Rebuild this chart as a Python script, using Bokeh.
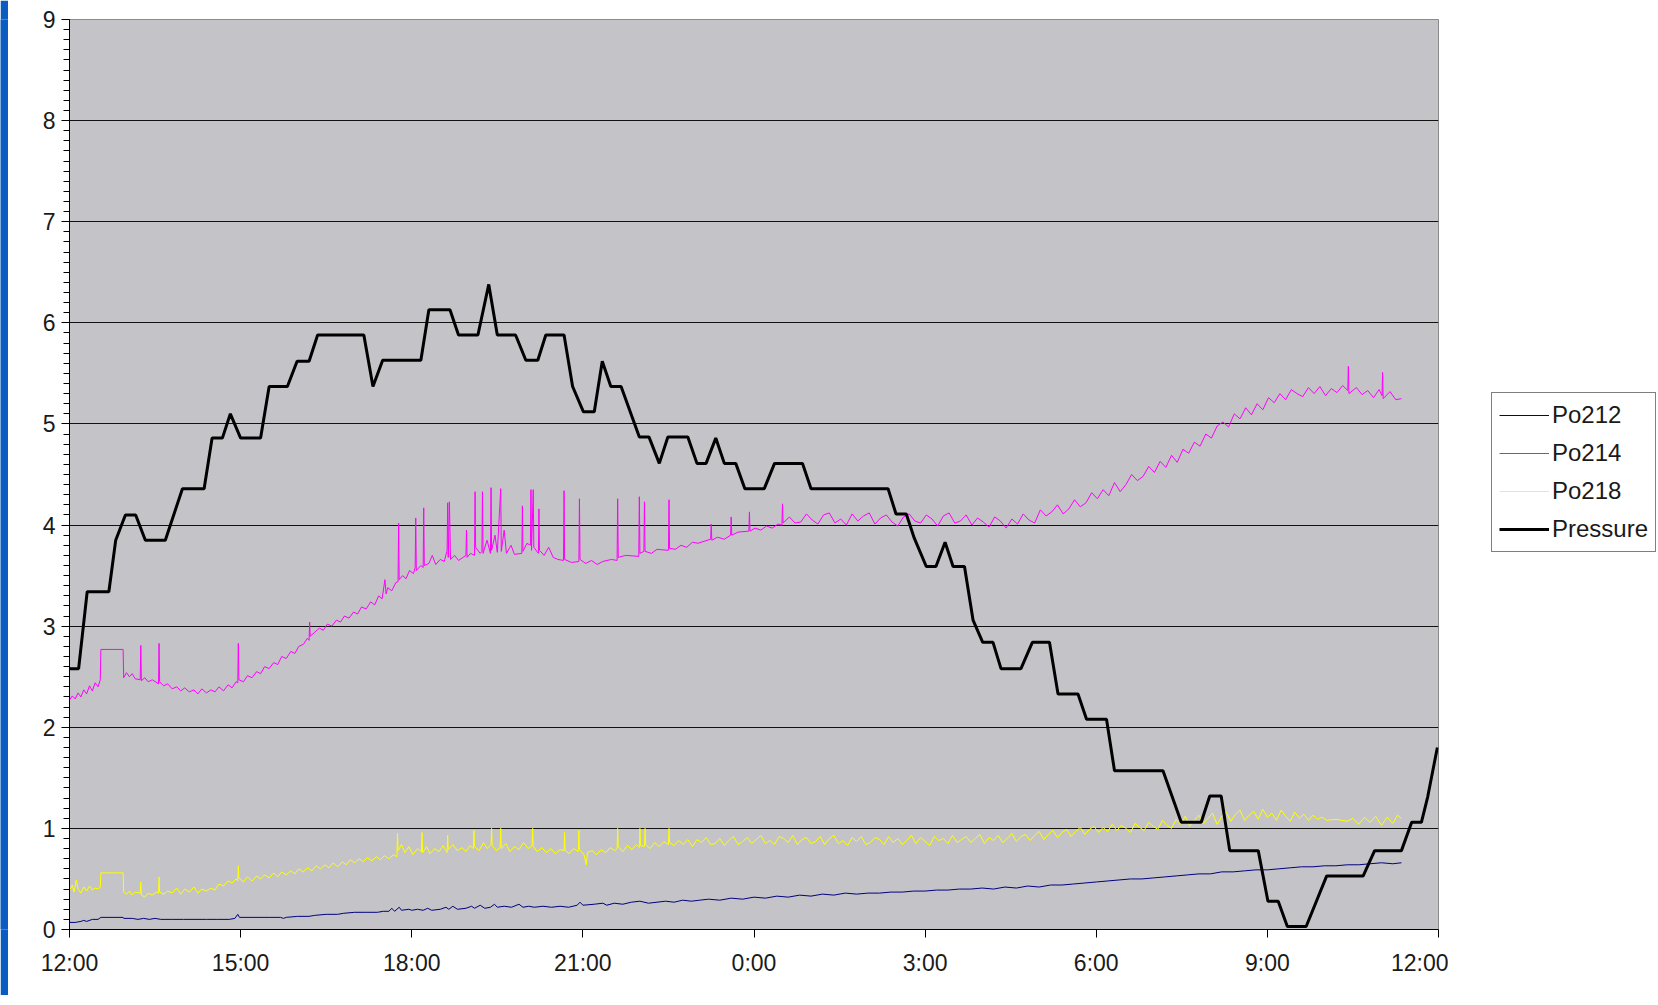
from bokeh.plotting import figure
from bokeh.layouts import row
from bokeh.models import Range1d, FixedTicker, Legend, LegendItem, ColumnDataSource
from bokeh.embed import file_html
from bokeh.resources import INLINE

# ---------------- data (hours after 12:00) ----------------
tick_hours = [0, 3, 6, 9, 12, 15, 18, 21, 24]
tick_labels = ["12:00", "15:00", "18:00", "21:00", "0:00", "3:00", "6:00", "9:00", "12:00"]

pressure_t = [0.00, 0.16, 0.31, 0.69, 0.81, 0.98, 1.16, 1.33, 1.68, 1.98, 2.36, 2.50, 2.68, 2.82, 3.00,
              3.35, 3.50, 3.82, 3.99, 4.20, 4.35, 5.16, 5.32, 5.49, 6.16, 6.30, 6.67, 6.82, 7.16, 7.35,
              7.50, 7.82, 8.00, 8.21, 8.35, 8.67, 8.82, 9.01, 9.20, 9.34, 9.49, 9.67, 9.99, 10.16, 10.34,
              10.49, 10.84, 11.00, 11.16, 11.33, 11.48, 11.68, 11.84, 12.18, 12.36, 12.85, 13.00, 14.35,
              14.49, 14.67, 14.81, 15.02, 15.19, 15.35, 15.49, 15.69, 15.84, 16.01, 16.19, 16.33, 16.68,
              16.88, 17.18, 17.33, 17.68, 17.83, 18.18, 18.32, 19.17, 19.49, 19.84, 19.99, 20.19, 20.34,
              20.84, 21.01, 21.19, 21.35, 21.68, 22.04, 22.68, 22.88, 23.35, 23.53, 23.70, 23.81, 23.90, 23.98]
pressure_v = [2.58, 2.58, 3.34, 3.34, 3.85, 4.10, 4.10, 3.85, 3.85, 4.36, 4.36, 4.86, 4.86, 5.10, 4.86,
              4.86, 5.37, 5.37, 5.62, 5.62, 5.88, 5.88, 5.37, 5.63, 5.63, 6.13, 6.13, 5.88, 5.88, 6.38,
              5.88, 5.88, 5.63, 5.63, 5.88, 5.88, 5.37, 5.12, 5.12, 5.62, 5.37, 5.37, 4.87, 4.87, 4.61,
              4.87, 4.87, 4.61, 4.61, 4.86, 4.61, 4.61, 4.36, 4.36, 4.61, 4.61, 4.36, 4.36,
              4.11, 4.11, 3.87, 3.59, 3.59, 3.83, 3.59, 3.59, 3.06, 2.84, 2.84, 2.58, 2.58,
              2.84, 2.84, 2.33, 2.33, 2.08, 2.08, 1.57, 1.57, 1.06, 1.06, 1.32, 1.32, 0.78,
              0.78, 0.28, 0.28, 0.03, 0.03, 0.53, 0.53, 0.78, 0.78, 1.06, 1.06, 1.31, 1.57, 1.80]

po214_t = [0.00, 0.05, 0.10, 0.15, 0.20, 0.25, 0.30, 0.35, 0.40, 0.45, 0.50, 0.54, 0.55, 0.94, 0.95,
           1.00, 1.05, 1.10, 1.15, 1.24, 1.25, 1.26, 1.32, 1.38, 1.45, 1.56, 1.57, 1.58, 1.65, 1.72,
           1.80, 1.88, 1.95, 2.02, 2.10, 2.18, 2.25, 2.32, 2.40, 2.48, 2.55, 2.62, 2.70, 2.78, 2.85,
           2.92, 2.95, 2.96, 2.97, 3.05, 3.12, 3.20, 3.28, 3.35, 3.42, 3.50, 3.58, 3.65, 3.72, 3.80,
           3.88, 3.95, 4.02, 4.10, 4.17, 4.20, 4.21, 4.22, 4.30, 4.38, 4.45, 4.52, 4.60, 4.68, 4.75,
           4.82, 4.90, 4.98, 5.05, 5.12, 5.20, 5.28, 5.35, 5.42, 5.48, 5.53, 5.55, 5.58, 5.65, 5.72,
           5.76, 5.77, 5.78, 5.84, 5.90, 5.96, 6.03, 6.06, 6.07, 6.08, 6.16, 6.20, 6.21, 6.22, 6.30,
           6.36, 6.42, 6.50, 6.57, 6.62, 6.63, 6.64, 6.66, 6.68, 6.75, 6.82, 6.90, 6.95, 6.96, 6.97,
           7.03, 7.10, 7.11, 7.12, 7.20, 7.23, 7.24, 7.25, 7.32, 7.38, 7.39, 7.40, 7.46, 7.50, 7.56,
           7.57, 7.62, 7.66, 7.74, 7.80, 7.93, 7.94, 7.95, 8.02, 8.08, 8.09, 8.10, 8.13, 8.14, 8.22,
           8.23, 8.24, 8.32, 8.40, 8.48, 8.56, 8.66, 8.67, 8.68, 8.80, 8.93, 8.94, 8.95, 9.05, 9.15,
           9.25, 9.35, 9.50, 9.60, 9.61, 9.62, 9.75, 9.98, 9.99, 10.00, 10.07, 10.08, 10.09, 10.20, 10.30,
           10.50, 10.51, 10.52, 10.62, 10.72, 10.82, 10.92, 11.02, 11.24, 11.25, 11.26, 11.36, 11.48, 11.59, 11.60,
           11.61, 11.72, 11.91, 11.92, 11.93, 12.02, 12.12, 12.22, 12.32, 12.42, 12.49, 12.50, 12.51, 12.62, 12.72,
           12.82, 12.92, 13.02, 13.12, 13.22, 13.32, 13.42, 13.52, 13.62, 13.72, 13.82, 13.92, 14.02, 14.12, 14.22,
           14.32, 14.42, 14.52, 14.62, 14.72, 14.82, 14.92, 15.02, 15.12, 15.22, 15.32, 15.42, 15.52, 15.62, 15.72,
           15.82, 15.92, 16.02, 16.12, 16.22, 16.32, 16.42, 16.52, 16.62, 16.72, 16.82, 16.92, 17.02, 17.12, 17.22,
           17.32, 17.42, 17.52, 17.62, 17.72, 17.82, 17.92, 18.02, 18.12, 18.22, 18.32, 18.42, 18.52, 18.62, 18.72,
           18.82, 18.92, 19.02, 19.12, 19.22, 19.32, 19.42, 19.52, 19.62, 19.72, 19.82, 19.92, 20.02, 20.12, 20.22,
           20.32, 20.42, 20.52, 20.62, 20.72, 20.82, 20.92, 21.02, 21.12, 21.22, 21.32, 21.42, 21.52, 21.62, 21.72,
           21.82, 21.92, 22.02, 22.12, 22.22, 22.32, 22.41, 22.42, 22.43, 22.56, 22.66, 22.76, 22.86, 22.96, 23.01,
           23.02, 23.03, 23.15, 23.25, 23.35]
po214_v = [2.27, 2.31, 2.28, 2.34, 2.30, 2.37, 2.33, 2.41, 2.36, 2.44, 2.40, 2.47, 2.77, 2.77, 2.49,
           2.54, 2.50, 2.53, 2.48, 2.47, 2.81, 2.46, 2.49, 2.45, 2.47, 2.43, 2.83, 2.45, 2.41, 2.43,
           2.38, 2.40, 2.36, 2.39, 2.35, 2.37, 2.33, 2.38, 2.34, 2.37, 2.35, 2.40, 2.36, 2.42, 2.39,
           2.45, 2.44, 2.83, 2.47, 2.45, 2.51, 2.49, 2.55, 2.53, 2.60, 2.58, 2.64, 2.62, 2.70, 2.68,
           2.75, 2.73, 2.80, 2.82, 2.88, 2.86, 3.04, 2.90, 2.94, 2.98, 2.96, 3.02, 3.00, 3.06, 3.04,
           3.10, 3.08, 3.14, 3.12, 3.19, 3.17, 3.24, 3.21, 3.30, 3.27, 3.46, 3.32, 3.38, 3.35, 3.43,
           3.44, 4.02, 3.46, 3.50, 3.47, 3.55, 3.52, 3.58, 4.07, 3.55, 3.60, 3.58, 4.17, 3.60, 3.62,
           3.70, 3.61, 3.66, 3.64, 3.75, 4.22, 3.68, 4.23, 3.66, 3.70, 3.65, 3.68, 3.70, 3.95, 3.68,
           3.72, 3.70, 4.33, 3.78, 3.72, 3.74, 4.33, 3.72, 3.85, 3.72, 4.37, 3.75, 3.90, 3.73, 4.36,
           3.74, 3.95, 3.72, 3.80, 3.71, 3.72, 4.19, 3.74, 3.82, 3.80, 4.35, 3.75, 4.35, 3.78, 3.72,
           4.16, 3.75, 3.70, 3.78, 3.68, 3.66, 3.65, 4.34, 3.66, 3.63, 3.64, 4.26, 3.66, 3.62, 3.65,
           3.61, 3.64, 3.66, 3.65, 4.26, 3.68, 3.70, 3.69, 4.28, 3.72, 3.74, 4.23, 3.74, 3.72, 3.76,
           3.75, 4.25, 3.77, 3.76, 3.80, 3.78, 3.83, 3.82, 3.86, 4.01, 3.85, 3.88, 3.86, 3.90, 4.08,
           3.90, 3.93, 3.94, 4.13, 3.94, 3.97, 3.95, 3.99, 3.97, 4.01, 4.00, 4.21, 4.02, 4.08, 4.02,
           4.03, 4.11, 4.05, 4.01, 4.10, 4.12, 4.02, 4.06, 4.00, 4.11, 4.04, 4.09, 4.12, 4.01, 4.07,
           4.10, 4.03, 3.99, 4.08, 4.11, 4.04, 4.02, 4.10, 4.06, 3.99, 4.09, 4.12, 4.02, 4.04, 4.10,
           4.00, 4.07, 4.03, 3.98, 4.08, 4.04, 3.97, 4.06, 4.01, 4.11, 4.05, 4.02, 4.15, 4.09, 4.13,
           4.20, 4.11, 4.16, 4.25, 4.18, 4.22, 4.32, 4.26, 4.35, 4.29, 4.42, 4.33, 4.40, 4.50, 4.44,
           4.48, 4.58, 4.52, 4.63, 4.57, 4.69, 4.62, 4.75, 4.71, 4.82, 4.78, 4.90, 4.86, 4.98, 5.02,
           4.97, 5.10, 5.05, 5.16, 5.09, 5.20, 5.14, 5.26, 5.21, 5.30, 5.24, 5.34, 5.30, 5.27, 5.36,
           5.30, 5.37, 5.28, 5.35, 5.31, 5.38, 5.33, 5.57, 5.30, 5.36, 5.29, 5.33, 5.26, 5.34, 5.28,
           5.51, 5.25, 5.32, 5.24, 5.25]

po218_t = [0.00, 0.05, 0.08, 0.12, 0.15, 0.20, 0.25, 0.30, 0.35, 0.40, 0.45, 0.50, 0.54, 0.55, 0.94,
           0.95, 1.00, 1.05, 1.10, 1.15, 1.24, 1.25, 1.26, 1.32, 1.38, 1.45, 1.52, 1.56, 1.57, 1.58,
           1.65, 1.72, 1.80, 1.88, 1.95, 2.02, 2.10, 2.18, 2.25, 2.32, 2.40, 2.48, 2.55, 2.62, 2.70,
           2.78, 2.85, 2.92, 2.95, 2.96, 2.97, 3.05, 3.12, 3.20, 3.28, 3.35, 3.42, 3.50, 3.58, 3.65,
           3.72, 3.80, 3.88, 3.95, 4.02, 4.10, 4.17, 4.25, 4.32, 4.40, 4.48, 4.55, 4.62, 4.70, 4.78,
           4.85, 4.92, 5.00, 5.08, 5.15, 5.22, 5.30, 5.38, 5.45, 5.52, 5.60, 5.68, 5.74, 5.75, 5.76,
           5.82, 5.88, 5.95, 6.02, 6.10, 6.17, 6.18, 6.19, 6.26, 6.32, 6.40, 6.48, 6.55, 6.62, 6.63,
           6.64, 6.72, 6.80, 6.88, 6.95, 7.02, 7.08, 7.09, 7.10, 7.18, 7.26, 7.32, 7.39, 7.40, 7.41,
           7.48, 7.55, 7.56, 7.57, 7.65, 7.72, 7.80, 7.88, 7.96, 8.04, 8.11, 8.12, 8.13, 8.20, 8.28,
           8.36, 8.44, 8.52, 8.60, 8.67, 8.68, 8.69, 8.76, 8.84, 8.92, 8.93, 8.94, 9.02, 9.06, 9.08,
           9.16, 9.24, 9.32, 9.40, 9.48, 9.56, 9.60, 9.61, 9.62, 9.70, 9.78, 9.86, 9.94, 9.99, 10.00,
           10.01, 10.08, 10.09, 10.10, 10.18, 10.26, 10.34, 10.42, 10.50, 10.51, 10.52, 10.60, 10.68, 10.76, 10.84,
           10.92, 11.00, 11.08, 11.16, 11.24, 11.32, 11.40, 11.48, 11.56, 11.64, 11.72, 11.80, 11.88, 11.96, 12.04,
           12.12, 12.20, 12.28, 12.36, 12.44, 12.52, 12.60, 12.68, 12.76, 12.84, 12.92, 13.00, 13.08, 13.16, 13.24,
           13.32, 13.40, 13.48, 13.56, 13.64, 13.72, 13.80, 13.88, 13.96, 14.04, 14.12, 14.20, 14.28, 14.36, 14.44,
           14.52, 14.60, 14.68, 14.76, 14.84, 14.92, 15.00, 15.08, 15.16, 15.24, 15.32, 15.40, 15.48, 15.56, 15.64,
           15.72, 15.80, 15.88, 15.96, 16.04, 16.12, 16.20, 16.28, 16.36, 16.44, 16.52, 16.60, 16.68, 16.76, 16.84,
           16.92, 17.00, 17.08, 17.16, 17.24, 17.32, 17.40, 17.48, 17.56, 17.64, 17.72, 17.80, 17.88, 17.96, 18.04,
           18.12, 18.20, 18.28, 18.36, 18.44, 18.52, 18.60, 18.68, 18.76, 18.84, 18.92, 19.00, 19.08, 19.16, 19.24,
           19.32, 19.40, 19.48, 19.56, 19.64, 19.72, 19.80, 19.88, 19.96, 20.04, 20.12, 20.20, 20.28, 20.36, 20.44,
           20.52, 20.60, 20.68, 20.76, 20.84, 20.92, 21.00, 21.08, 21.16, 21.24, 21.32, 21.40, 21.48, 21.56, 21.64,
           21.72, 21.80, 21.88, 21.96, 22.04, 22.20, 22.30, 22.40, 22.50, 22.60, 22.70, 22.80, 22.90, 23.00, 23.10,
           23.20, 23.28, 23.35]
po218_v = [0.39, 0.44, 0.37, 0.49, 0.40, 0.36, 0.42, 0.38, 0.43, 0.39, 0.41, 0.40, 0.42, 0.56, 0.56,
           0.37, 0.35, 0.38, 0.34, 0.37, 0.36, 0.47, 0.34, 0.32, 0.36, 0.34, 0.37, 0.36, 0.52, 0.37,
           0.35, 0.38, 0.36, 0.41, 0.35, 0.40, 0.37, 0.42, 0.36, 0.40, 0.38, 0.41, 0.39, 0.45, 0.43,
           0.48, 0.46, 0.50, 0.48, 0.63, 0.51, 0.47, 0.52, 0.48, 0.53, 0.50, 0.54, 0.51, 0.56, 0.52,
           0.57, 0.54, 0.58, 0.55, 0.60, 0.57, 0.61, 0.58, 0.63, 0.60, 0.64, 0.61, 0.66, 0.62, 0.67,
           0.64, 0.69, 0.66, 0.70, 0.67, 0.71, 0.68, 0.72, 0.69, 0.73, 0.70, 0.74, 0.72, 0.95, 0.78,
           0.84, 0.76, 0.82, 0.74, 0.80, 0.77, 0.96, 0.76, 0.82, 0.75, 0.80, 0.77, 0.83, 0.76, 0.93,
           0.79, 0.84, 0.78, 0.81, 0.77, 0.83, 0.80, 0.98, 0.82, 0.78, 0.86, 0.80, 0.84, 1.00, 0.83,
           0.78, 0.81, 1.00, 0.80, 0.85, 0.77, 0.82, 0.79, 0.86, 0.80, 0.83, 1.00, 0.82, 0.77, 0.81,
           0.76, 0.80, 0.75, 0.79, 0.78, 0.96, 0.78, 0.75, 0.80, 0.77, 0.98, 0.79, 0.74, 0.64, 0.76,
           0.78, 0.74, 0.79, 0.76, 0.81, 0.78, 0.80, 1.00, 0.82, 0.77, 0.83, 0.79, 0.84, 0.81, 1.00,
           0.83, 0.82, 1.00, 0.84, 0.80, 0.86, 0.82, 0.87, 0.84, 1.00, 0.86, 0.83, 0.88, 0.84, 0.89,
           0.82, 0.89, 0.86, 0.91, 0.84, 0.85, 0.90, 0.83, 0.88, 0.92, 0.84, 0.87, 0.91, 0.85, 0.89,
           0.93, 0.85, 0.88, 0.84, 0.92, 0.90, 0.86, 0.93, 0.84, 0.89, 0.91, 0.85, 0.87, 0.92, 0.84,
           0.90, 0.93, 0.85, 0.88, 0.83, 0.91, 0.87, 0.92, 0.84, 0.86, 0.91, 0.89, 0.84, 0.92, 0.86,
           0.90, 0.84, 0.88, 0.93, 0.85, 0.91, 0.87, 0.83, 0.92, 0.88, 0.90, 0.85, 0.93, 0.86, 0.89,
           0.92, 0.86, 0.90, 0.94, 0.85, 0.91, 0.88, 0.93, 0.86, 0.90, 0.95, 0.87, 0.92, 0.94, 0.88,
           0.93, 0.97, 0.89, 0.94, 0.98, 0.91, 0.96, 0.99, 0.92, 0.97, 1.01, 0.94, 0.99, 1.02, 0.96,
           1.01, 0.97, 1.04, 0.98, 1.03, 1.00, 0.96, 1.05, 1.01, 0.98, 1.06, 1.02, 0.99, 1.08, 1.03,
           1.00, 1.09, 1.04, 1.12, 1.02, 1.08, 1.13, 1.05, 1.10, 1.15, 1.04, 1.12, 1.16, 1.07, 1.14,
           1.18, 1.08, 1.13, 1.17, 1.09, 1.19, 1.11, 1.15, 1.08, 1.18, 1.12, 1.07, 1.16, 1.10, 1.14,
           1.08, 1.13, 1.09, 1.11, 1.08, 1.09, 1.08, 1.07, 1.10, 1.04, 1.11, 1.06, 1.12, 1.03, 1.11,
           1.05, 1.13, 1.10]

po212_t = [0.00, 0.10, 0.20, 0.25, 0.30, 0.40, 0.50, 0.55, 0.94, 0.95, 1.10, 1.20, 1.30, 1.40, 1.50,
           1.60, 1.80, 2.00, 2.20, 2.40, 2.60, 2.80, 2.90, 2.95, 2.98, 3.20, 3.50, 3.70, 3.75, 3.80,
           4.00, 4.20, 4.30, 4.50, 4.70, 4.80, 5.00, 5.20, 5.40, 5.50, 5.60, 5.65, 5.70, 5.78, 5.82,
           5.95, 6.00, 6.10, 6.20, 6.28, 6.35, 6.50, 6.60, 6.65, 6.72, 6.80, 6.95, 7.05, 7.10, 7.20,
           7.28, 7.38, 7.45, 7.50, 7.62, 7.75, 7.88, 7.95, 8.05, 8.15, 8.30, 8.45, 8.60, 8.75, 8.90,
           8.95, 9.00, 9.20, 9.35, 9.42, 9.55, 9.70, 9.85, 10.00, 10.15, 10.30, 10.45, 10.60, 10.75, 10.90,
           11.05, 11.20, 11.40, 11.60, 11.80, 12.00, 12.20, 12.40, 12.60, 12.80, 13.00, 13.20, 13.40, 13.60, 13.80,
           14.00, 14.20, 14.40, 14.60, 14.80, 15.00, 15.20, 15.40, 15.60, 15.80, 16.00, 16.20, 16.40, 16.60, 16.80,
           17.00, 17.20, 17.40, 17.60, 17.80, 18.00, 18.20, 18.40, 18.60, 18.80, 19.00, 19.20, 19.40, 19.60, 19.80,
           20.00, 20.20, 20.40, 20.60, 20.80, 21.00, 21.20, 21.40, 21.60, 21.80, 22.00, 22.20, 22.40, 22.60, 22.80,
           23.00, 23.20, 23.35]
po212_v = [0.07, 0.07, 0.08, 0.09, 0.08, 0.10, 0.10, 0.12, 0.12, 0.11, 0.11, 0.10, 0.11, 0.10, 0.11,
           0.10, 0.10, 0.10, 0.10, 0.10, 0.10, 0.10, 0.11, 0.15, 0.12, 0.12, 0.12, 0.12, 0.11, 0.12,
           0.13, 0.13, 0.14, 0.15, 0.15, 0.16, 0.17, 0.17, 0.17, 0.18, 0.18, 0.21, 0.18, 0.22, 0.19,
           0.20, 0.19, 0.20, 0.19, 0.21, 0.19, 0.20, 0.22, 0.20, 0.23, 0.20, 0.21, 0.23, 0.21, 0.24,
           0.21, 0.22, 0.25, 0.22, 0.23, 0.22, 0.25, 0.22, 0.23, 0.22, 0.23, 0.22, 0.23, 0.22, 0.24,
           0.27, 0.24, 0.25, 0.26, 0.24, 0.26, 0.25, 0.27, 0.28, 0.26, 0.27, 0.28, 0.27, 0.29, 0.28,
           0.29, 0.30, 0.29, 0.31, 0.30, 0.32, 0.31, 0.33, 0.32, 0.34, 0.33, 0.35, 0.34, 0.36, 0.35,
           0.36, 0.36, 0.37, 0.37, 0.38, 0.38, 0.39, 0.39, 0.40, 0.40, 0.41, 0.40, 0.42, 0.41, 0.43,
           0.42, 0.44, 0.44, 0.45, 0.46, 0.47, 0.48, 0.49, 0.50, 0.50, 0.51, 0.52, 0.53, 0.54, 0.55,
           0.55, 0.57, 0.57, 0.58, 0.59, 0.59, 0.60, 0.61, 0.62, 0.62, 0.63, 0.63, 0.64, 0.64, 0.65,
           0.66, 0.65, 0.66]

series_names = ["Po212", "Po214", "Po218", "Pressure"]
series_colors = ["#000080", "#ff00ff", "#ffff00", "black"]
series_widths = [1, 1, 1, 3]

FONT = "Liberation Sans"
H = 995

# ---------------- window edge strip ----------------
strip = figure(width=8, height=H, output_backend="svg", toolbar_location=None,
               x_range=Range1d(0, 1), y_range=Range1d(0, 1), x_axis_type=None, y_axis_type=None)
strip.min_border_left = strip.min_border_right = 0
strip.min_border_top = strip.min_border_bottom = 0
strip.grid.visible = False
strip.outline_line_color = None
strip.background_fill_color = "#0a5cc0"
strip.border_fill_color = "#0a5cc0"

# ---------------- main figure ----------------
p = figure(width=1440, height=H, output_backend="svg", toolbar_location=None,
           x_range=Range1d(0, 24), y_range=Range1d(0, 9))
p.min_border_left = 61
p.min_border_right = 10
p.min_border_top = 19
p.min_border_bottom = H - 19 - 910
p.background_fill_color = "#c4c3c7"
p.border_fill_color = "white"
p.outline_line_color = "#8a8a8a"
p.outline_line_width = 1

p.xgrid.grid_line_color = None
p.ygrid.grid_line_color = "#111111"
p.ygrid.grid_line_width = 1
p.ygrid.ticker = FixedTicker(ticks=list(range(0, 10)))

p.xaxis.ticker = FixedTicker(ticks=tick_hours)
p.xaxis.major_label_overrides = {h: lab for h, lab in zip(tick_hours, tick_labels)}
p.yaxis.ticker = FixedTicker(ticks=list(range(0, 10)),
                             minor_ticks=[i / 10 for i in range(0, 91)])
for ax in (p.xaxis[0], p.yaxis[0]):
    ax.axis_line_color = "black"
    ax.axis_line_width = 1
    ax.major_tick_line_color = "black"
    ax.major_tick_line_width = 1
    ax.major_tick_in = 0
    ax.major_tick_out = 8
    ax.major_label_text_font = FONT
    ax.major_label_text_font_size = "23px"
    ax.major_label_text_color = "#1a1a1a"
p.xaxis.minor_tick_line_color = None
p.xaxis.major_label_standoff = 12
p.yaxis.minor_tick_line_color = "black"
p.yaxis.minor_tick_in = 0
p.yaxis.minor_tick_out = 6
p.yaxis.major_label_standoff = 6

sources = [ColumnDataSource(dict(t=t, v=v)) for t, v in
           [(po212_t, po212_v), (po214_t, po214_v), (po218_t, po218_v), (pressure_t, pressure_v)]]
for src, c, w in zip(sources, series_colors, series_widths):
    p.line("t", "v", source=src, line_color=c, line_width=w)

# ---------------- legend panel ----------------
lg = figure(width=210, height=H, output_backend="svg", toolbar_location=None,
            x_range=Range1d(0, 1), y_range=Range1d(0, 1), x_axis_type=None, y_axis_type=None)
lg.min_border_left = lg.min_border_right = 0
lg.min_border_top = lg.min_border_bottom = 0
lg.grid.visible = False
lg.outline_line_color = None
lg.background_fill_color = "white"
lg.border_fill_color = "white"

# legend swatches: same styles, drawn outside the visible range
legend_renderers = [lg.line(x=[5, 6], y=[5, 6], line_color=c, line_width=w)
                    for c, w in zip(series_colors, series_widths)]
legend = Legend(items=[LegendItem(label=n, renderers=[r]) for n, r in
                       zip(series_names, legend_renderers)],
                location=(43, 377))
legend.label_text_font = FONT
legend.label_text_font_size = "24px"
legend.label_text_color = "#1a1a1a"
legend.glyph_width = 50
legend.glyph_height = 30
legend.label_height = 30
legend.label_standoff = 3
legend.spacing = 8
legend.padding = 7
legend.margin = 0
legend.border_line_color = "black"
legend.border_line_width = 1
legend.background_fill_color = "white"
legend.background_fill_alpha = 1
lg.add_layout(legend, "center")

layout = row(strip, p, lg)
open("out.html", "w").write(file_html(layout, INLINE))
